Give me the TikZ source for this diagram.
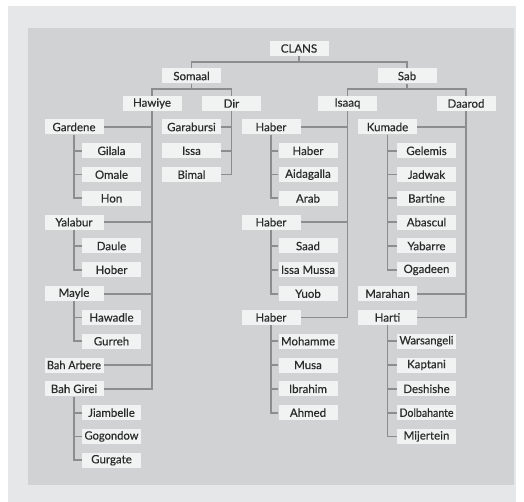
\documentclass[tikz,border=0pt]{standalone}
\usepackage{fontspec}
\usepackage{graphicx}
\setmainfont{Lato}[FakeBold=0.4]
\definecolor{outerbg}{HTML}{E6E7E8}
\definecolor{innerbg}{HTML}{D1D2D4}
\definecolor{boxfill}{HTML}{F1F2F2}
\definecolor{linecol}{HTML}{8C8D8F}
\definecolor{txt}{HTML}{2B2B2B}
\newsavebox\nrwbox
\newcommand{\nrw}[1]{\sbox\nrwbox{#1}\ifdim\wd\nrwbox>54pt\resizebox{54pt}{\height}{\usebox\nrwbox}\else\usebox\nrwbox\fi}
\tikzset{
  clan/.style={fill=boxfill, minimum width=59pt, minimum height=15pt, inner sep=0pt,
    text=txt, font=\fontsize{11.5}{13}\selectfont},
  conn/.style={draw=linecol, line width=1.8pt, line join=miter}
}
\begin{document}
\begin{tikzpicture}[x=1pt,y=-1pt]
\path[use as bounding box, fill=white] (0,0) rectangle (524,502);
\fill[outerbg] (8,6) rectangle (516,502);
\fill[innerbg] (28,28) rectangle (514,485);

% top levels
\node[clan] (clans) at (299,48.5) {CLANS};
\node[clan] (somaal) at (191.5,76) {Somaal};
\node[clan] (sab) at (407,76) {Sab};
\node[clan] (hawiye) at (152,103.5) {Hawiye};
\node[clan] (dir) at (231.5,103.5) {Dir};
\node[clan] (isaaq) at (347.5,103.5) {Isaaq};
\node[clan] (daarod) at (466,103.5) {Daarod};

% Hawiye column
\node[clan] (gardene) at (74,127) {Gardene};
\node[clan] (gilala) at (111.5,150.8) {Gilala};
\node[clan] (omale) at (111.5,174.6) {Omale};
\node[clan] (hon) at (111.5,198.4) {Hon};
\node[clan] (yalabur) at (74,222.2) {Yalabur};
\node[clan] (daule) at (111.5,246) {Daule};
\node[clan] (hober) at (111.5,269.8) {Hober};
\node[clan] (mayle) at (74,293.6) {Mayle};
\node[clan] (hawadle) at (111.5,317.4) {\nrw{Hawadle}};
\node[clan] (gurreh) at (111.5,341.2) {Gurreh};
\node[clan] (baharbere) at (74,365) {\nrw{Bah Arbere}};
\node[clan] (bahgirei) at (74,388.8) {\nrw{Bah Girei}};
\node[clan] (jiambelle) at (111.5,412.6) {\nrw{Jiambelle}};
\node[clan] (gogondow) at (111.5,436.4) {\nrw{Gogondow}};
\node[clan] (gurgate) at (111.5,460.2) {\nrw{Gurgate}};

% Dir column
\node[clan] (garabursi) at (191.5,127) {\nrw{Garabursi}};
\node[clan] (issa) at (191.5,150.8) {Issa};
\node[clan] (bimal) at (191.5,174.6) {Bimal};

% Isaaq column
\node[clan] (habera) at (271,127) {Haber};
\node[clan] (haberi) at (308,150.8) {Haber};
\node[clan] (aidagalla) at (308,174.6) {\nrw{Aidagalla}};
\node[clan] (arab) at (308,198.4) {Arab};
\node[clan] (haberb) at (271,222.2) {Haber};
\node[clan] (saad) at (308,246) {Saad};
\node[clan] (issamussa) at (308,269.8) {\nrw{Issa Mussa}};
\node[clan] (yuob) at (308,293.6) {Yuob};
\node[clan] (haberc) at (271,317.4) {Haber};
\node[clan] (mohamme) at (308,341.2) {\nrw{Mohamme}};
\node[clan] (musa) at (308,365) {Musa};
\node[clan] (ibrahim) at (308,388.8) {Ibrahim};
\node[clan] (ahmed) at (308,412.6) {Ahmed};

% Daarod column
\node[clan] (kumade) at (387.5,127) {Kumade};
\node[clan] (gelemis) at (426.5,150.8) {Gelemis};
\node[clan] (jadwak) at (426.5,174.6) {Jadwak};
\node[clan] (bartine) at (426.5,198.4) {Bartine};
\node[clan] (abascul) at (426.5,222.2) {Abascul};
\node[clan] (yabarre) at (426.5,246) {Yabarre};
\node[clan] (ogadeen) at (426.5,269.8) {\nrw{Ogadeen}};
\node[clan] (marahan) at (387.5,293.6) {\nrw{Marahan}};
\node[clan] (harti) at (387.5,317.4) {Harti};
\node[clan] (warsangeli) at (426.5,341.2) {\nrw{Warsangeli}};
\node[clan] (kaptani) at (426.5,365) {Kaptani};
\node[clan] (deshishe) at (426.5,388.8) {\nrw{Deshishe}};
\node[clan] (dolbahante) at (426.5,412.6) {\nrw{Dolbahante}};
\node[clan] (mijertein) at (426.5,436.4) {\nrw{Mijertein}};

% junction coordinates
\coordinate (cj) at (299,62);
\coordinate (sj) at (191.5,89);
\coordinate (bj) at (407,89);

% top brackets
\draw[conn] (clans.south) -- (cj);
\draw[conn] (somaal.north) |- (cj) -| (sab.north);
\draw[conn] (somaal.south) -- (sj);
\draw[conn] (hawiye.north) |- (sj) -| (dir.north);
\draw[conn] (sab.south) -- (bj);
\draw[conn] (isaaq.north) |- (bj) -| (daarod.north);

% Hawiye
\draw[conn] (hawiye.south) |- (bahgirei.east);
\foreach \n in {gardene,yalabur,mayle,baharbere}
  \draw[conn] (\n.east) -| (hawiye.south);
\foreach \n in {gilala,omale,hon} \draw[conn] (gardene.south) |- (\n.west);
\foreach \n in {daule,hober} \draw[conn] (yalabur.south) |- (\n.west);
\foreach \n in {hawadle,gurreh} \draw[conn] (mayle.south) |- (\n.west);
\foreach \n in {jiambelle,gogondow,gurgate} \draw[conn] (bahgirei.south) |- (\n.west);

% Dir
\draw[conn] (dir.south) |- (bimal.east);
\foreach \n in {garabursi,issa} \draw[conn] (\n.east) -| (dir.south);

% Isaaq
\draw[conn] (isaaq.south) |- (haberc.east);
\foreach \n in {habera,haberb} \draw[conn] (\n.east) -| (isaaq.south);
\foreach \n in {haberi,aidagalla,arab} \draw[conn] (habera.south) |- (\n.west);
\foreach \n in {saad,issamussa,yuob} \draw[conn] (haberb.south) |- (\n.west);
\foreach \n in {mohamme,musa,ibrahim,ahmed} \draw[conn] (haberc.south) |- (\n.west);

% Daarod
\draw[conn] (daarod.south) |- (harti.east);
\foreach \n in {kumade,marahan} \draw[conn] (\n.east) -| (daarod.south);
\foreach \n in {gelemis,jadwak,bartine,abascul,yabarre,ogadeen} \draw[conn] (kumade.south) |- (\n.west);
\foreach \n in {warsangeli,kaptani,deshishe,dolbahante,mijertein} \draw[conn] (harti.south) |- (\n.west);
\end{tikzpicture}
\end{document}
